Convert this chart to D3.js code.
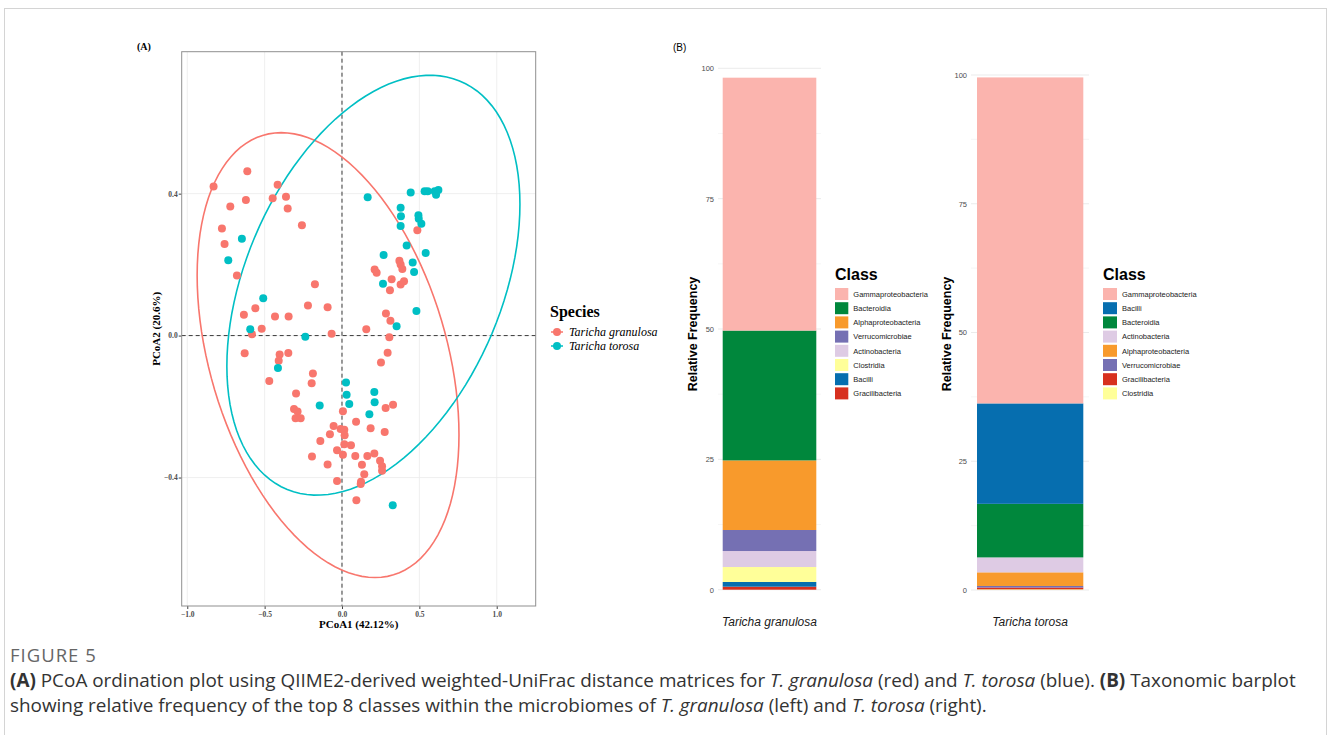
<!DOCTYPE html>
<html>
<head>
<meta charset="utf-8">
<script src="https://cdn.jsdelivr.net/npm/d3@7"></script>
<style>
  body { margin: 0; background: #fff; }
  svg { display: block; }
</style>
</head>
<body>
<script>
// ---- data ----
// PCoA scores, Taricha granulosa
let granulosaPC1 = [-0.830, -0.612, -0.416, -0.448, -0.362, -0.351, -0.621, -0.722, -0.776, -0.759,
    -0.259, -0.679, -0.175, -0.220, -0.093, -0.560, -0.634, -0.433, -0.345, -0.519,
    -0.582, -0.067, 0.157, 0.306, 0.487, 0.211, 0.224, 0.371, 0.379, 0.390,
    0.321, 0.379, 0.401, 0.310, 0.284, 0.313, -0.629, -0.403, -0.347, -0.409,
    0.295, 0.252, -0.188, -0.196, -0.470, -0.297, -0.310, -0.287, -0.300, -0.267,
    0.006, 0.091, 0.282, 0.330, -0.054, -0.009, 0.015, 0.017, -0.078, 0.185,
    0.276, -0.140, 0.015, 0.058, -0.032, 0.006, -0.194, 0.086, 0.164, 0.209,
    -0.093, 0.129, 0.246, 0.259, 0.259, 0.144, 0.123, 0.121, -0.032, 0.093];
let granulosaPC2 = [0.420, 0.463, 0.425, 0.387, 0.391, 0.358, 0.382, 0.364, 0.302, 0.258,
    0.311, 0.169, 0.145, 0.085, 0.080, 0.077, 0.059, 0.054, 0.054, 0.019,
    0.004, 0.005, 0.018, -0.005, 0.297, 0.186, 0.177, 0.211, 0.200, 0.188,
    0.159, 0.144, 0.153, 0.128, 0.062, 0.042, -0.050, -0.053, -0.049, -0.071,
    -0.048, -0.076, -0.107, -0.134, -0.128, -0.163, -0.207, -0.214, -0.233, -0.233,
    -0.213, -0.243, -0.204, -0.195, -0.255, -0.263, -0.265, -0.281, -0.278, -0.261,
    -0.272, -0.297, -0.306, -0.309, -0.323, -0.336, -0.341, -0.339, -0.339, -0.332,
    -0.363, -0.364, -0.353, -0.368, -0.381, -0.391, -0.412, -0.418, -0.410, -0.464];

// PCoA scores, Taricha torosa
let torosaPC1 = [-0.647, -0.735, -0.509, -0.593, -0.237, 0.166, 0.444, 0.534, 0.554, 0.599,
    0.608, 0.623, 0.379, 0.381, 0.379, 0.494, 0.496, 0.513, 0.418, 0.541,
    0.269, 0.457, 0.466, 0.265, 0.481, 0.353, -0.414, 0.026, 0.030, 0.047,
    -0.144, 0.209, 0.211, 0.177, 0.328];
let torosaPC2 = [0.273, 0.212, 0.105, 0.018, -0.003, 0.390, 0.403, 0.407, 0.407, 0.407,
    0.397, 0.410, 0.360, 0.336, 0.309, 0.339, 0.329, 0.315, 0.254, 0.233,
    0.227, 0.206, 0.179, 0.146, 0.069, 0.026, -0.091, -0.132, -0.167, -0.193,
    -0.197, -0.159, -0.188, -0.222, -0.478];

// 95% ellipses: centre and shape (covariance-like) terms, in PCoA units
let granulosaEllipse = [-0.09, -0.055, 0.716, 0.393, -0.19];
let torosaEllipse = [0.203, 0.142, 0.897, 0.350, 0.216];

let speciesNames = ["Taricha granulosa", "Taricha torosa"];
let pcoaXTicks = [-1.0, -0.5, 0.0, 0.5, 1.0];
let pcoaYTicks = [-0.4, 0.0, 0.4];

// relative frequency (%) of the top 8 classes, legend order
let granulosaClasses = ["Gammaproteobacteria", "Bacteroidia", "Alphaproteobacteria", "Verrucomicrobiae",
    "Actinobacteria", "Clostridia", "Bacilli", "Gracilibacteria"];
let granulosaFreq = [48.5, 24.9, 13.35, 4.03, 3.07, 2.87, 0.9, 0.58];

let torosaClasses = ["Gammaproteobacteria", "Bacilli", "Bacteroidia", "Actinobacteria",
    "Alphaproteobacteria", "Verrucomicrobiae", "Gracilibacteria", "Clostridia"];
let torosaFreq = [63.3, 19.5, 10.4, 2.9, 2.65, 0.3, 0.35, 0.13];

let freqTicks = [0, 25, 50, 75, 100];

// ---- colours ----
let speciesColour = d3.scaleOrdinal().domain(speciesNames).range(["#F8766D", "#00BFC4"]);
let classColour = d3.scaleOrdinal()
    .domain(["Gammaproteobacteria", "Bacteroidia", "Alphaproteobacteria", "Verrucomicrobiae",
        "Actinobacteria", "Clostridia", "Bacilli", "Gracilibacteria"])
    .range(["#FBB4AE", "#00873C", "#F89A2C", "#7570B3", "#DECBE4", "#FFFF99", "#066EAF", "#D7301F"]);

let serif = "'Liberation Serif', 'Times New Roman', serif";
let sans = "'Liberation Sans', Arial, sans-serif";
let captionFont = "'Open Sans', 'Noto Sans', sans-serif";

var svg = d3.select("body").append("svg")
    .attr("width", 1330)
    .attr("height", 735);

// outer frame
svg.append("rect")
    .attr("x", 4.5).attr("y", 8.5)
    .attr("width", 1322).attr("height", 760)
    .attr("fill", "none")
    .attr("stroke", "#d4d4d4");

// ================= (A) PCoA =================
let panel = {left: 181.7, right: 535.7, top: 51.7, bottom: 606};

var xScale = d3.scaleLinear().domain([-1.036, 1.252]).range([panel.left, panel.right]);
var yScale = d3.scaleLinear().domain([-0.762, 0.8]).range([panel.bottom, panel.top]);

var pcoa = svg.append("g");

pcoa.append("text")
    .attr("x", 137).attr("y", 50)
    .attr("font-family", serif).attr("font-weight", "bold").attr("font-size", 10)
    .text("(A)");

// grid
pcoa.selectAll(".vgrid").data(pcoaXTicks).enter().append("line")
    .attr("x1", d => xScale(d)).attr("x2", d => xScale(d))
    .attr("y1", panel.top).attr("y2", panel.bottom)
    .attr("stroke", "#ebebeb").attr("stroke-width", 0.8);
pcoa.selectAll(".hgrid").data(pcoaYTicks).enter().append("line")
    .attr("x1", panel.left).attr("x2", panel.right)
    .attr("y1", d => yScale(d)).attr("y2", d => yScale(d))
    .attr("stroke", "#ebebeb").attr("stroke-width", 0.8);

// axes
var fmt = d3.format(".1f");
var xAxis = pcoa.append("g")
    .attr("transform", `translate(0, ${panel.bottom})`)
    .call(d3.axisBottom(xScale).tickValues(pcoaXTicks).tickFormat(fmt).tickSize(3).tickSizeOuter(0));
var yAxis = pcoa.append("g")
    .attr("transform", `translate(${panel.left}, 0)`)
    .call(d3.axisLeft(yScale).tickValues(pcoaYTicks).tickFormat(fmt).tickSize(3).tickSizeOuter(0));
[xAxis, yAxis].forEach(function(ax) {
    ax.select(".domain").remove();
    ax.selectAll("line").attr("stroke", "#444");
    ax.selectAll("text")
        .attr("font-family", serif).attr("font-size", 7.5).attr("font-weight", "bold")
        .attr("fill", "#4d4d4d");
});
xAxis.selectAll("text").attr("dy", "0.9em").attr("y", 4);
yAxis.selectAll("text").attr("x", -4);

// reference lines at 0
pcoa.append("line")
    .attr("x1", xScale(0)).attr("x2", xScale(0))
    .attr("y1", panel.top).attr("y2", panel.bottom)
    .attr("stroke", "#3a3a3a").attr("stroke-dasharray", "4,3");
pcoa.append("line")
    .attr("x1", panel.left).attr("x2", panel.right)
    .attr("y1", yScale(0)).attr("y2", yScale(0))
    .attr("stroke", "#3a3a3a").attr("stroke-dasharray", "4,3");

// ellipses
function ellipsePoints(e) {
    var a11 = Math.sqrt(e[2]);
    var a21 = e[4] / a11;
    var a22 = Math.sqrt(e[3] - a21 * a21);
    return d3.range(0, 361, 3).map(function(deg) {
        var t = deg * Math.PI / 180;
        return [e[0] + a11 * Math.cos(t), e[1] + a21 * Math.cos(t) + a22 * Math.sin(t)];
    });
}
var ellipseLine = d3.line().x(d => xScale(d[0])).y(d => yScale(d[1])).curve(d3.curveLinearClosed);

var pcoaSets = [
    {name: speciesNames[0], x: granulosaPC1, y: granulosaPC2, ell: granulosaEllipse},
    {name: speciesNames[1], x: torosaPC1, y: torosaPC2, ell: torosaEllipse}
];

pcoaSets.forEach(function(s) {
    pcoa.append("path")
        .attr("d", ellipseLine(ellipsePoints(s.ell)))
        .attr("fill", "none")
        .attr("stroke", speciesColour(s.name))
        .attr("stroke-width", 1.6);
});

pcoaSets.forEach(function(s) {
    pcoa.append("g").selectAll("circle")
        .data(d3.range(s.x.length))
        .enter()
        .append("circle")
        .attr("cx", i => xScale(s.x[i]))
        .attr("cy", i => yScale(s.y[i]))
        .attr("r", 4)
        .attr("fill", speciesColour(s.name));
});

// panel border
pcoa.append("rect")
    .attr("x", panel.left).attr("y", panel.top)
    .attr("width", panel.right - panel.left).attr("height", panel.bottom - panel.top)
    .attr("fill", "none").attr("stroke", "#8f8f8f").attr("stroke-width", 1);

// axis titles
pcoa.append("text")
    .attr("x", (panel.left + panel.right) / 2).attr("y", 628)
    .attr("text-anchor", "middle")
    .attr("font-family", serif).attr("font-weight", "bold").attr("font-size", 11)
    .text("PCoA1 (42.12%)");
pcoa.append("text")
    .attr("transform", `translate(160, ${(panel.top + panel.bottom) / 2}) rotate(-90)`)
    .attr("text-anchor", "middle")
    .attr("font-family", serif).attr("font-weight", "bold").attr("font-size", 11)
    .text("PCoA2 (20.6%)");

// species legend
var specLegend = pcoa.append("g").attr("transform", "translate(550, 317)");
specLegend.append("text")
    .attr("font-family", serif).attr("font-weight", "bold").attr("font-size", 16)
    .text("Species");
var specItems = specLegend.selectAll(".item").data(speciesNames).enter().append("g")
    .attr("transform", (d, i) => `translate(0, ${15 + i * 14})`);
specItems.append("line")
    .attr("x1", 1).attr("x2", 13)
    .attr("stroke", d => speciesColour(d)).attr("stroke-width", 1.5);
specItems.append("circle")
    .attr("cx", 7).attr("r", 4)
    .attr("fill", d => speciesColour(d));
specItems.append("text")
    .attr("x", 19).attr("y", 4)
    .attr("font-family", serif).attr("font-style", "italic").attr("font-size", 12)
    .text(d => d);

// ================= (B) stacked bars =================
svg.append("text")
    .attr("x", 673).attr("y", 51)
    .attr("font-family", sans).attr("font-size", 10)
    .text("(B)");

function drawBar(cfg) {
    var g = svg.append("g");
    var y = d3.scaleLinear().domain([0, 100]).range([cfg.bottom, cfg.top]);

    // grid: major and minor
    var minor = d3.range(12.5, 100, 25);
    g.selectAll(".minor").data(minor).enter().append("line")
        .attr("x1", cfg.gridLeft).attr("x2", cfg.gridRight)
        .attr("y1", d => y(d)).attr("y2", d => y(d))
        .attr("stroke", "#f0f0f0").attr("stroke-width", 0.6);
    g.selectAll(".major").data(freqTicks).enter().append("line")
        .attr("x1", cfg.gridLeft).attr("x2", cfg.gridRight)
        .attr("y1", d => y(d)).attr("y2", d => y(d))
        .attr("stroke", "#ebebeb").attr("stroke-width", 1);

    var axis = g.append("g")
        .attr("transform", `translate(${cfg.gridLeft}, 0)`)
        .call(d3.axisLeft(y).tickValues(freqTicks).tickSize(0).tickPadding(4));
    axis.select(".domain").remove();
    axis.selectAll("text")
        .attr("font-family", sans).attr("font-size", 7.5).attr("fill", "#4d4d4d");

    // stacked segments, first class on top
    var x = d3.scaleBand().domain([cfg.species]).range([cfg.barLeft, cfg.barRight]).padding(0);
    var segs = [];
    var base = 0;
    for (var i = cfg.classes.length - 1; i >= 0; i--) {
        segs.push({cls: cfg.classes[i], y0: base, y1: base + cfg.freq[i]});
        base += cfg.freq[i];
    }
    g.selectAll(".seg").data(segs).enter().append("rect")
        .attr("x", x(cfg.species))
        .attr("width", x.bandwidth())
        .attr("y", d => y(d.y1))
        .attr("height", d => y(d.y0) - y(d.y1))
        .attr("fill", d => classColour(d.cls));

    // x label
    g.append("text")
        .attr("x", x(cfg.species) + x.bandwidth() / 2).attr("y", 626)
        .attr("text-anchor", "middle")
        .attr("font-family", sans).attr("font-style", "italic").attr("font-size", 12)
        .attr("fill", "#1a1a1a")
        .text(cfg.species);

    // y title
    g.append("text")
        .attr("transform", `translate(${cfg.titleX}, 334) rotate(-90)`)
        .attr("text-anchor", "middle")
        .attr("font-family", sans).attr("font-weight", "bold").attr("font-size", 12.5)
        .text("Relative Frequency");

    // legend
    var leg = g.append("g").attr("transform", `translate(${cfg.legendX}, 0)`);
    leg.append("text")
        .attr("y", 280)
        .attr("font-family", sans).attr("font-weight", "bold").attr("font-size", 16)
        .text("Class");
    var items = leg.selectAll(".key").data(cfg.classes).enter().append("g")
        .attr("transform", (d, i) => `translate(0, ${288 + i * 14.2})`);
    items.append("rect")
        .attr("width", cfg.keyW).attr("height", 12)
        .attr("fill", d => classColour(d));
    items.append("text")
        .attr("x", cfg.keyW + 5).attr("y", 8.8)
        .attr("font-family", sans).attr("font-size", 7.5).attr("fill", "#222")
        .text(d => d);
}

drawBar({
    species: speciesNames[0], classes: granulosaClasses, freq: granulosaFreq,
    top: 68.3, bottom: 589.7, gridLeft: 718, gridRight: 821, barLeft: 722.7, barRight: 816.3,
    titleX: 697, legendX: 835, keyW: 13.3
});
drawBar({
    species: speciesNames[1], classes: torosaClasses, freq: torosaFreq,
    top: 75, bottom: 590, gridLeft: 971, gridRight: 1089, barLeft: 977, barRight: 1083.3,
    titleX: 951, legendX: 1103, keyW: 14
});

// ================= caption =================
var cap = svg.append("g").attr("font-family", captionFont);
cap.append("text")
    .attr("x", 10).attr("y", 662)
    .attr("font-size", 18.5).attr("fill", "#666")
    .attr("letter-spacing", 1)
    .text("FIGURE 5");

var captionLines = [
    [["(A)", "b"], [" PCoA ordination plot using QIIME2-derived weighted-UniFrac distance matrices for ", ""],
        ["T. granulosa", "i"], [" (red) and ", ""], ["T. torosa", "i"], [" (blue). ", ""], ["(B)", "b"],
        [" Taxonomic barplot", ""]],
    [["showing relative frequency of the top 8 classes within the microbiomes of ", ""], ["T. granulosa", "i"],
        [" (left) and ", ""], ["T. torosa", "i"], [" (right).", ""]]
];
captionLines.forEach(function(parts, li) {
    var t = cap.append("text")
        .attr("x", 10).attr("y", 687 + li * 24.5)
        .attr("font-size", 18.9).attr("fill", "#333")
        .attr("xml:space", "preserve");
    parts.forEach(function(p) {
        t.append("tspan")
            .attr("font-weight", p[1] === "b" ? "bold" : null)
            .attr("font-style", p[1] === "i" ? "italic" : null)
            .text(p[0]);
    });
});
</script>
</body>
</html>
